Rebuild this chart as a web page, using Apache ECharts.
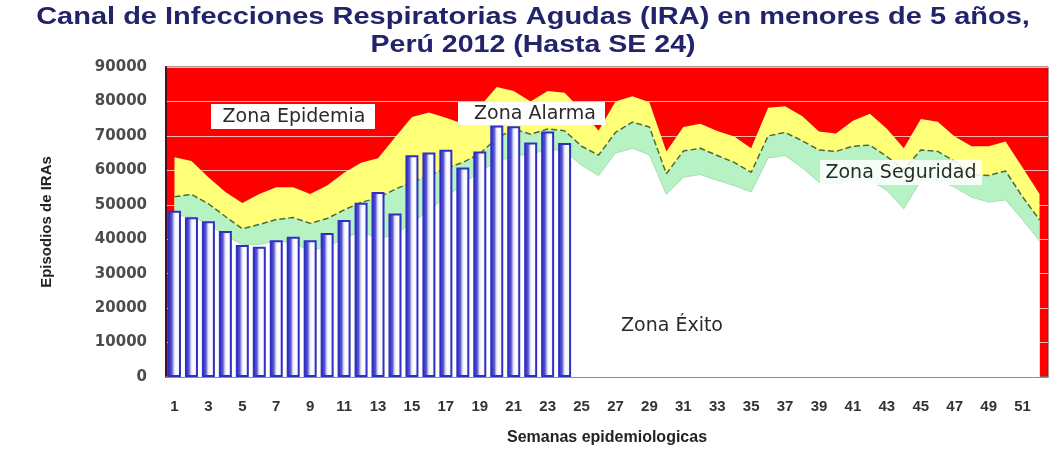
<!DOCTYPE html>
<html>
<head>
<meta charset="utf-8">
<script src="https://cdn.jsdelivr.net/npm/echarts@6/dist/echarts.min.js"></script>
<style>
html,body{margin:0;padding:0;background:#ffffff;}
#chart{width:1062px;height:451px;}
</style>
</head>
<body>
<div id="chart"></div>
<script>
// Epidemiological weeks (categories)
const weeks = ['1','2','3','4','5','6','7','8','9','10','11','12','13','14','15','16','17','18','19','20','21','22','23','24','25','26',
  '27','28','29','30','31','32','33','34','35','36','37','38','39','40','41','42','43','44','45','46','47','48','49','50','51','52'];

// Upper limit of alarm zone (yellow top / epidemic boundary)
const upperLimit = [63800,62700,58000,53700,50500,53100,55100,55100,53100,55600,59300,62200,63500,69500,75500,76800,75300,73500,78500,84200,
  83000,80000,83000,82500,77500,71500,80000,81500,79800,65500,72600,73500,71400,69800,66400,78200,78600,75800,71300,70700,
  74400,76400,72100,66400,74900,74100,69800,67000,67000,68400,60800,53100];

// Median (dashed line, alarm / security boundary)
const median = [52300,53000,50300,46600,43000,44300,45700,46300,44600,46000,48500,50700,52000,54500,56500,58500,60500,62300,64800,69300,
  72000,70500,72000,71500,67000,64400,71000,74000,72600,59000,65600,66400,64300,62300,59400,70000,71000,68600,65900,65500,
  67000,67300,64000,60300,65900,65500,62600,58800,58500,59800,52300,45600];

// Lower limit of security zone (green bottom / success boundary)
const lowerLimit = [47000,46500,44500,41000,38500,38500,39500,39000,36500,38000,40000,42500,40000,41500,44600,48500,52200,55900,59800,62300,
  64300,64600,66200,65600,61500,58500,65000,66400,64500,53000,58000,58800,57100,55600,53700,63600,64300,60800,56500,55900,
  57500,57100,54200,48800,57100,57100,55100,52200,50800,51400,45700,39500];

// Observed cases 2012 (up to week 24)
const cases2012 = [48300,46400,45200,42400,38300,37800,39700,40700,39700,41800,45600,50600,53700,47500,64400,65200,66000,60800,65500,73000,
  72800,68100,71300,67900];

// Y-axis tick values
const yTicks = [0,10000,20000,30000,40000,50000,60000,70000,80000,90000];

const chart = echarts.init(document.getElementById('chart'));

const barFill = new echarts.graphic.LinearGradient(0,0,1,0,[
  {offset:0,color:'#3232c4'},
  {offset:0.3,color:'#5252d2'},
  {offset:0.48,color:'#e2e2fb'},
  {offset:0.62,color:'#ffffff'},
  {offset:1,color:'#eeeeff'}
]);

const option = {
  animation:false,
  backgroundColor:'#ffffff',
  grid:{left:166,right:14,top:67,bottom:67,show:true,backgroundColor:'#ff0000',borderColor:'#5a2a2a',borderWidth:1},
  xAxis:{
    type:'category',
    data:weeks,
    boundaryGap:true,
    axisLine:{show:true,lineStyle:{color:'#777777',width:1.5}},
    axisTick:{show:false},
    axisLabel:{interval:1,margin:22,fontSize:15,fontWeight:'bold',color:'#333333',fontFamily:'Liberation Sans Narrow, Arial Narrow, sans-serif'},
    name:'Semanas epidemiologicas',
    nameLocation:'middle',
    nameGap:53,
    nameTextStyle:{fontSize:16,fontWeight:'bold',color:'#222222',fontFamily:'Liberation Sans Narrow, Arial Narrow, sans-serif'}
  },
  yAxis:{
    type:'value',
    min:yTicks[0],
    max:yTicks[yTicks.length-1],
    interval:yTicks[1]-yTicks[0],
    axisLine:{show:true,lineStyle:{color:'#4a1020',width:2}},
    axisTick:{show:false},
    splitLine:{show:true,lineStyle:{color:'rgba(255,210,210,0.85)',width:1}},
    axisLabel:{margin:19,fontSize:15,fontWeight:'bold',color:'#4c4c4c',fontFamily:'DejaVu Sans, Verdana, sans-serif',
      formatter:function(v){return String(v);}},
    name:'Episodios de IRAs',
    nameLocation:'middle',
    nameGap:112,
    nameRotate:90,
    nameTextStyle:{fontSize:15,fontWeight:'bold',color:'#222222',fontFamily:'Liberation Sans Narrow, Arial Narrow, sans-serif'}
  },
  series:[
    {
      name:'Alarma',type:'line',data:upperLimit,symbol:'none',smooth:false,z:2,
      lineStyle:{width:0},
      areaStyle:{color:'#ffff78',opacity:1}
    },
    {
      name:'Mediana',type:'line',data:median,symbol:'none',smooth:false,z:3,
      lineStyle:{width:1.5,type:'dashed',color:'#4d6b3a'},
      areaStyle:{color:'#b6f2c4',opacity:1}
    },
    {
      name:'Seguridad',type:'line',data:lowerLimit,symbol:'none',smooth:false,z:4,
      lineStyle:{width:1,color:'#a6deb2'},
      areaStyle:{color:'#ffffff',opacity:1}
    },
    {
      name:'2012',type:'bar',data:cases2012,z:10,
      barWidth:13,
      itemStyle:{color:barFill,borderColor:'#3030c0',borderWidth:2}
    }
  ],
  graphic:[
    {type:'text',x:533,y:6,scaleX:1.26,z:100,
      style:{text:'Canal de Infecciones Respiratorias Agudas (IRA) en menores de 5 años,',fill:'#23236b',align:'center',
        font:'bold 23px "Liberation Sans", Arial, sans-serif'}},
    {type:'text',x:533,y:34,scaleX:1.24,z:100,
      style:{text:'Perú 2012 (Hasta SE 24)',fill:'#23236b',align:'center',
        font:'bold 23px "Liberation Sans", Arial, sans-serif'}},
    {type:'rect',z:100,shape:{x:211,y:104,width:164,height:25},style:{fill:'#ffffff'}},
    {type:'text',z:101,x:294,y:117,style:{text:'Zona Epidemia',fill:'#2a2a2a',align:'center',verticalAlign:'middle',
        font:'19px "DejaVu Sans", Verdana, sans-serif'}},
    {type:'rect',z:100,shape:{x:458,y:102,width:147,height:23},style:{fill:'#ffffff'}},
    {type:'text',z:101,x:535,y:114,style:{text:'Zona Alarma',fill:'#2a2a2a',align:'center',verticalAlign:'middle',
        font:'19px "DejaVu Sans", Verdana, sans-serif'}},
    {type:'rect',z:100,shape:{x:820,y:160,width:162,height:25},style:{fill:'rgba(255,255,255,0.85)'}},
    {type:'text',z:101,x:901,y:173,style:{text:'Zona Seguridad',fill:'#2a2a2a',align:'center',verticalAlign:'middle',
        font:'19px "DejaVu Sans", Verdana, sans-serif'}},
    {type:'text',z:101,x:672,y:326,style:{text:'Zona Éxito',fill:'#2a2a2a',align:'center',verticalAlign:'middle',
        font:'19px "DejaVu Sans", Verdana, sans-serif'}}
  ]
};
chart.setOption(option);
</script>
</body>
</html>
